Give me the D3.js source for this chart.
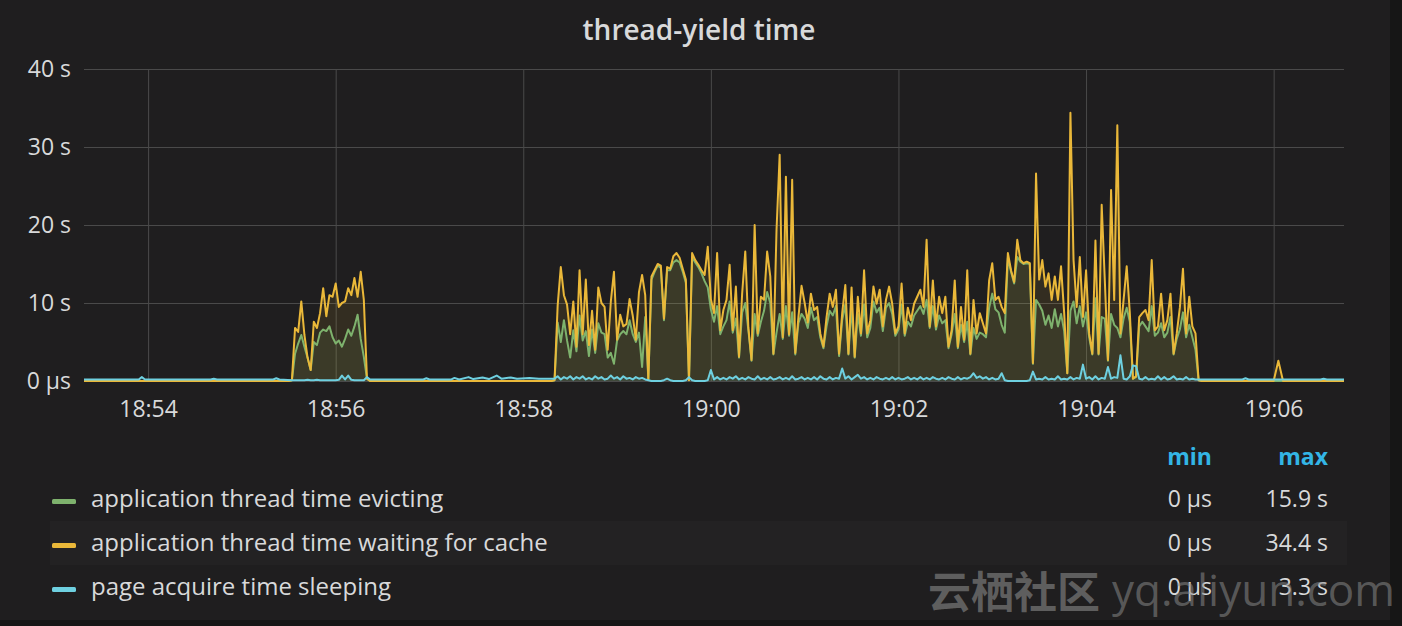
<!DOCTYPE html>
<html>
<head>
<meta charset="utf-8">
<script src="https://cdn.jsdelivr.net/npm/d3@7"></script>
<style>
  body { margin: 0; background: #161616; }
  svg { display: block; font-family: "Open Sans", sans-serif; }
</style>
</head>
<body>
<svg id="chart" width="1402" height="626"></svg>
<script>
// visible window and sampling inside the busy stretches
const viewStart = "18:53:19";
const viewEnd = "19:06:45";
const sampleStep = 2; // seconds

const yTicks = [0, 10, 20, 30, 40];

const seriesNames = [
  "application thread time evicting",
  "application thread time waiting for cache",
  "page acquire time sleeping"
];
const seriesColors = ["#7eb26d", "#eab839", "#6ed0e0"];

// first burst (18:55:32 onwards)
const burst1Start = "18:55:32";
const burst1Evicting = [0.1, 3.5, 4.8, 5.9, 4.4, 3.0, 1.4, 5.0, 4.6, 6.2, 6.6, 6.4, 7.0, 5.6, 4.8, 5.2, 4.4, 5.4, 6.6, 5.8, 7.0, 8.5, 5.4, 3.1, 0.3];
const burst1Waiting = [0.1, 6.8, 6.3, 10.2, 5.9, 3.0, 1.4, 7.6, 6.8, 8.7, 11.9, 8.3, 11.0, 10.8, 12.5, 9.5, 10.0, 10.2, 11.9, 11.0, 13.2, 10.8, 14.0, 10.4, 0.3];
const burst1Sleeping = [0.1, 0.1, 0.1, 0.1, 0.1, 0.15, 0.1, 0.1, 0.15, 0.1, 0.1, 0.1, 0.1, 0.1, 0.1, 0.15, 0.7, 0.2, 0.7, 0.15, 0.1, 0.1, 0.1, 0.1, 0.5];

// main burst (18:58:20 to 19:05:12)
const burst2Start = "18:58:20";
const burst2Waiting = [
  0.1, 9.7, 14.6, 11.0, 9.8, 6.0, 10.2, 4.4, 14.2, 6.0,
  13.0, 4.6, 9.0, 4.0, 12.0, 10.0, 9.5, 4.0, 10.2, 14.0,
  5.3, 8.5, 7.0, 7.3, 10.5, 8.4, 5.3, 11.4, 13.6, 11.0,
  0.2, 13.4, 14.2, 15.0, 14.8, 8.0, 14.6, 14.4, 16.0, 16.4,
  15.8, 14.4, 13.0, 0.1, 16.4, 15.5, 14.9, 14.2, 13.6, 17.2,
  10.5, 8.7, 16.4, 6.5, 9.1, 10.4, 14.9, 6.5, 12.1, 3.1,
  11.2, 16.6, 6.8, 2.7, 20.0, 6.1, 10.8, 10.4, 16.6, 13.4,
  3.5, 19.4, 29.0, 5.6, 26.2, 6.0, 25.8, 3.6, 8.2, 12.2,
  10.0, 7.5, 11.2, 9.1, 9.5, 6.1, 4.4, 8.2, 11.2, 9.5,
  11.7, 3.5, 8.7, 12.3, 3.5, 12.0, 3.1, 10.8, 6.1, 14.2,
  6.1, 7.8, 12.1, 9.9, 11.7, 7.0, 10.4, 12.1, 9.9, 6.1,
  7.0, 12.5, 6.1, 9.4, 7.8, 9.9, 10.8, 11.7, 9.5, 18.1,
  7.0, 12.9, 7.0, 10.8, 8.7, 10.8, 4.4, 6.5, 12.9, 4.4,
  9.5, 5.3, 14.2, 3.5, 10.4, 6.1, 8.7, 7.4, 6.1, 12.9,
  15.1, 10.4, 10.8, 9.5, 8.7, 16.4, 14.2, 12.7, 18.1, 15.5,
  15.1, 15.3, 15.1, 2.3, 26.6, 13.0, 15.5, 12.1, 13.8, 10.4,
  13.4, 10.4, 14.7, 8.7, 1.0, 34.4, 15.5, 9.5, 15.9, 8.2,
  14.2, 6.1, 3.5, 18.0, 3.5, 22.6, 12.9, 2.7, 24.5, 10.4,
  32.8, 6.1, 10.4, 14.7, 8.7, 0.3, 0.6, 8.2, 8.7, 9.1,
  7.8, 15.5, 6.5, 7.0, 11.2, 6.5, 7.8, 11.2, 3.5, 6.1,
  9.4, 14.4, 6.1, 10.8, 7.0, 6.1, 0.1
];
const burst2Evicting = [
  0.1, 7.5, 5.0, 7.8, 5.2, 3.0, 6.5, 3.8, 8.4, 5.2,
  6.4, 3.2, 6.6, 3.6, 7.4, 6.2, 6.0, 3.0, 3.6, 2.2,
  5.2, 6.0, 6.4, 6.0, 7.8, 6.0, 5.0, 6.2, 1.8, 8.2,
  0.2, 13.0, 14.0, 14.8, 14.5, 7.8, 14.2, 14.2, 15.2, 15.5,
  15.2, 14.0, 12.6, 0.1, 15.9, 15.2, 14.6, 13.8, 12.8, 12.0,
  9.2, 7.6, 9.6, 6.0, 7.0, 7.8, 10.2, 6.2, 8.0, 3.0,
  8.8, 10.0, 6.5, 2.6, 8.6, 5.8, 7.6, 9.0, 11.4, 10.0,
  3.4, 6.2, 8.6, 5.4, 9.6, 5.8, 8.8, 3.4, 7.4, 8.6,
  8.0, 6.8, 9.4, 7.8, 8.2, 5.6, 4.2, 7.0, 9.0, 8.4,
  9.6, 3.2, 7.8, 9.8, 3.4, 9.6, 3.0, 8.6, 5.8, 9.8,
  5.6, 6.8, 10.2, 8.8, 9.4, 6.4, 9.4, 10.0, 8.6, 5.8,
  6.6, 9.8, 5.8, 7.6, 7.0, 8.4, 9.0, 9.6, 8.6, 10.4,
  6.8, 9.6, 6.6, 8.4, 7.4, 7.8, 4.2, 6.0, 8.6, 4.2,
  7.2, 5.0, 7.6, 3.4, 6.8, 5.4, 6.2, 6.0, 5.6, 9.4,
  11.2, 9.2, 8.8, 7.2, 6.2, 15.8, 14.0, 12.5, 15.9, 15.3,
  15.0, 15.1, 15.0, 2.2, 10.4, 9.8, 9.0, 7.2, 8.4, 6.8,
  9.2, 7.0, 8.6, 6.4, 1.0, 9.0, 10.2, 7.4, 9.6, 7.0,
  8.8, 5.6, 3.4, 10.6, 3.4, 8.2, 8.0, 2.6, 8.6, 7.2,
  6.8, 5.6, 8.0, 9.4, 7.6, 0.3, 0.5, 7.0, 7.6, 7.0,
  6.4, 9.6, 5.8, 6.2, 7.4, 5.6, 6.2, 8.2, 3.4, 5.4,
  6.6, 8.8, 5.6, 7.2, 5.6, 4.0, 0.1
];
const burst2Sleeping = [
  0.3, 0.6, 0.2, 0.5, 0.3, 0.6, 0.2, 0.5, 0.3, 0.6,
  0.2, 0.4, 0.2, 0.6, 0.3, 0.5, 0.2, 0.3, 0.7, 0.3,
  0.5, 0.2, 0.6, 0.3, 0.4, 0.2, 0.5, 0.3, 0.4, 0.2,
  0.1, 0.0, 0.0, 0.0, 0.0, 0.1, 0.3, 0.1, 0.0, 0.0,
  0.0, 0.0, 0.1, 0.5, 0.1, 0.0, 0.0, 0.0, 0.0, 0.1,
  1.4, 0.2, 0.5, 0.2, 0.4, 0.2, 0.5, 0.3, 0.6, 0.2,
  0.4, 0.2, 0.5, 0.3, 0.2, 0.6, 0.2, 0.4, 0.2, 0.5,
  0.2, 0.3, 0.5, 0.2, 0.4, 0.2, 0.6, 0.2, 0.3, 0.5,
  0.2, 0.4, 0.2, 0.5, 0.2, 0.6, 0.3, 0.2, 0.5, 0.2,
  0.4, 0.3, 1.6, 0.3, 0.6, 0.2, 0.5, 0.8, 0.3, 0.5,
  0.2, 0.4, 0.2, 0.5, 0.3, 0.2, 0.4, 0.2, 0.5, 0.2,
  0.4, 0.2, 0.3, 0.5, 0.2, 0.4, 0.2, 0.5, 0.2, 0.4,
  0.2, 0.5, 0.3, 0.2, 0.4, 0.2, 0.5, 0.3, 0.2, 0.5,
  0.2, 0.4, 0.3, 0.5, 1.0, 0.4, 0.6, 0.3, 0.5, 0.2,
  0.4, 0.2, 0.3, 1.0, 0.1, 0.0, 0.0, 0.0, 0.0, 0.0,
  0.0, 0.0, 0.1, 1.2, 0.2, 0.3, 0.2, 0.5, 0.2, 0.3,
  0.2, 0.6, 0.2, 0.3, 0.2, 0.5, 0.2, 0.4, 0.3, 2.1,
  0.3, 0.5, 0.2, 0.6, 0.2, 0.4, 0.3, 1.8, 0.3, 0.5,
  0.4, 3.3, 0.3, 0.2, 0.6, 2.0, 1.9, 0.3, 0.2, 0.5,
  0.2, 0.3, 0.2, 0.6, 0.2, 0.5, 0.2, 0.3, 0.6, 0.2,
  0.3, 0.2, 0.5, 0.2, 0.3, 0.2, 0.2
];

// quiet stretches outside the bursts: [time, seconds]
const quietEvicting = [["18:53:19", 0], ["18:55:30", 0], ["18:56:22", 0], ["18:58:18", 0], ["19:05:14", 0], ["19:06:45", 0]];
const quietWaiting = [["18:53:19", 0], ["18:55:30", 0], ["18:56:22", 0], ["18:58:18", 0], ["19:05:14", 0],
  ["19:06:00", 0], ["19:06:03", 2.6], ["19:06:06", 0], ["19:06:45", 0]];
const quietSleeping = [
  ["18:53:19", 0.2], ["18:53:54", 0.2], ["18:53:56", 0.5], ["18:53:58", 0.2],
  ["18:54:40", 0.2], ["18:54:42", 0.3], ["18:54:44", 0.2],
  ["18:55:20", 0.2], ["18:55:22", 0.35], ["18:55:24", 0.2],
  ["18:56:22", 0.2], ["18:56:56", 0.2], ["18:56:58", 0.35], ["18:57:00", 0.2],
  ["18:57:14", 0.2], ["18:57:16", 0.4], ["18:57:19", 0.2], ["18:57:25", 0.5], ["18:57:28", 0.25],
  ["18:57:34", 0.45], ["18:57:38", 0.25], ["18:57:43", 0.7], ["18:57:46", 0.3], ["18:57:52", 0.45],
  ["18:57:56", 0.3], ["18:58:04", 0.4], ["18:58:10", 0.3], ["18:58:18", 0.3],
  ["19:05:14", 0.2], ["19:05:40", 0.2], ["19:05:42", 0.35], ["19:05:44", 0.2],
  ["19:06:30", 0.2], ["19:06:32", 0.3], ["19:06:34", 0.2], ["19:06:45", 0.2]
];

const parseTime = d3.timeParse("%H:%M:%S");

const burstPoints = (start, values) => {
    const t0 = parseTime(start);
    return values.map((v, i) => ({ t: d3.timeSecond.offset(t0, i * sampleStep), v }));
};
const quietPoints = (list) => list.map(([t, v]) => ({ t: parseTime(t), v }));
const buildSeries = (quiet, b1, b2) =>
    quietPoints(quiet)
        .concat(burstPoints(burst1Start, b1), burstPoints(burst2Start, b2))
        .sort((a, b) => a.t - b.t);

const series = [
    buildSeries(quietEvicting, burst1Evicting, burst2Evicting),
    buildSeries(quietWaiting, burst1Waiting, burst2Waiting),
    buildSeries(quietSleeping, burst1Sleeping, burst2Sleeping)
];

const formatValue = (v) => v === 0 ? "0 µs" : `${d3.format(".1~f")(v)} s`;

const plot = { left: 84, right: 1344, top: 69, bottom: 381 };

const x = d3.scaleTime()
    .domain([parseTime(viewStart), parseTime(viewEnd)])
    .range([plot.left, plot.right]);
const y = d3.scaleLinear()
    .domain([0, 40])
    .range([plot.bottom, plot.top]);

const svg = d3.select("#chart");

svg.append("rect")
    .attr("width", 1390)
    .attr("height", 620)
    .attr("fill", "#1f1e1f");

svg.append("text")
    .attr("x", 699)
    .attr("y", 40)
    .attr("text-anchor", "middle")
    .attr("font-size", 28)
    .attr("font-weight", 600)
    .attr("fill", "#d8d9da")
    .text("thread-yield time");

// grid + axes
const yAxis = svg.append("g")
    .attr("transform", `translate(${plot.left},0)`)
    .call(d3.axisLeft(y)
        .tickValues(yTicks)
        .tickSize(-(plot.right - plot.left))
        .tickPadding(13)
        .tickFormat(formatValue));

const xAxis = svg.append("g")
    .attr("transform", `translate(0,${plot.bottom})`)
    .call(d3.axisBottom(x)
        .ticks(d3.timeMinute.every(2))
        .tickSize(-(plot.bottom - plot.top))
        .tickPadding(20)
        .tickFormat(d3.timeFormat("%H:%M")));

[yAxis, xAxis].forEach(axis => {
    axis.select(".domain").remove();
    axis.selectAll(".tick line").attr("stroke", "#4a4a4a").attr("stroke-width", 1);
    axis.selectAll(".tick text")
        .attr("fill", "#d8d9da")
        .attr("font-size", 23)
        .attr("font-family", "Open Sans, sans-serif");
});

svg.append("clipPath").attr("id", "plot-clip")
    .append("rect")
    .attr("x", plot.left).attr("y", plot.top - 5)
    .attr("width", plot.right - plot.left)
    .attr("height", plot.bottom - plot.top + 10);

const g = svg.append("g").attr("clip-path", "url(#plot-clip)");

const area = d3.area()
    .x(d => x(d.t))
    .y0(y(0))
    .y1(d => y(d.v));
const line = d3.line()
    .x(d => x(d.t))
    .y(d => y(d.v));

// fills first, lines on top (evicting, waiting, sleeping)
series.forEach((s, i) => {
    g.append("path")
        .datum(s)
        .attr("d", area)
        .attr("fill", seriesColors[i])
        .attr("fill-opacity", 0.1);
});
series.forEach((s, i) => {
    g.append("path")
        .datum(s)
        .attr("d", line)
        .attr("fill", "none")
        .attr("stroke", seriesColors[i])
        .attr("stroke-width", 2)
        .attr("stroke-linejoin", "round");
});

// legend table
const rowY = [499, 543, 587];
const minX = 1212, maxX = 1328;

svg.append("rect")
    .attr("x", 50).attr("y", 521)
    .attr("width", 1297).attr("height", 44)
    .attr("fill", "#232223");

const header = svg.append("g")
    .attr("font-size", 23)
    .attr("font-weight", 700)
    .attr("fill", "#33b5e5")
    .attr("text-anchor", "end");
header.append("text").attr("x", minX).attr("y", 457).attr("dy", "0.35em").text("min");
header.append("text").attr("x", maxX).attr("y", 457).attr("dy", "0.35em").text("max");

const rows = svg.append("g")
    .selectAll("g")
    .data(series)
    .join("g")
    .attr("transform", (d, i) => `translate(0,${rowY[i]})`);

rows.append("rect")
    .attr("x", 52).attr("y", 0)
    .attr("width", 24).attr("height", 5)
    .attr("rx", 1.5)
    .attr("fill", (d, i) => seriesColors[i]);

rows.append("text")
    .attr("x", 91)
    .attr("dy", "0.35em")
    .attr("font-size", 24)
    .attr("fill", "#d8d9da")
    .text((d, i) => seriesNames[i]);

rows.append("text")
    .attr("x", minX)
    .attr("dy", "0.35em")
    .attr("text-anchor", "end")
    .attr("font-size", 23)
    .attr("fill", "#d8d9da")
    .text(d => formatValue(d3.min(d, p => p.v)));

rows.append("text")
    .attr("x", maxX)
    .attr("dy", "0.35em")
    .attr("text-anchor", "end")
    .attr("font-size", 23)
    .attr("fill", "#d8d9da")
    .text(d => formatValue(d3.max(d, p => p.v)));

// watermark
svg.append("text")
    .attr("x", 928)
    .attr("y", 608)
    .attr("font-size", 43)
    .attr("font-weight", 700)
    .attr("font-family", "Noto Sans CJK SC, sans-serif")
    .attr("fill", "#8a8a8a")
    .attr("fill-opacity", 0.6)
    .text("云栖社区");
svg.append("text")
    .attr("x", 1112)
    .attr("y", 606)
    .attr("font-size", 44)
    .attr("font-family", "Open Sans, sans-serif")
    .attr("fill", "#8a8a8a")
    .attr("fill-opacity", 0.55)
    .text("yq.aliyun.com");
</script>
</body>
</html>
